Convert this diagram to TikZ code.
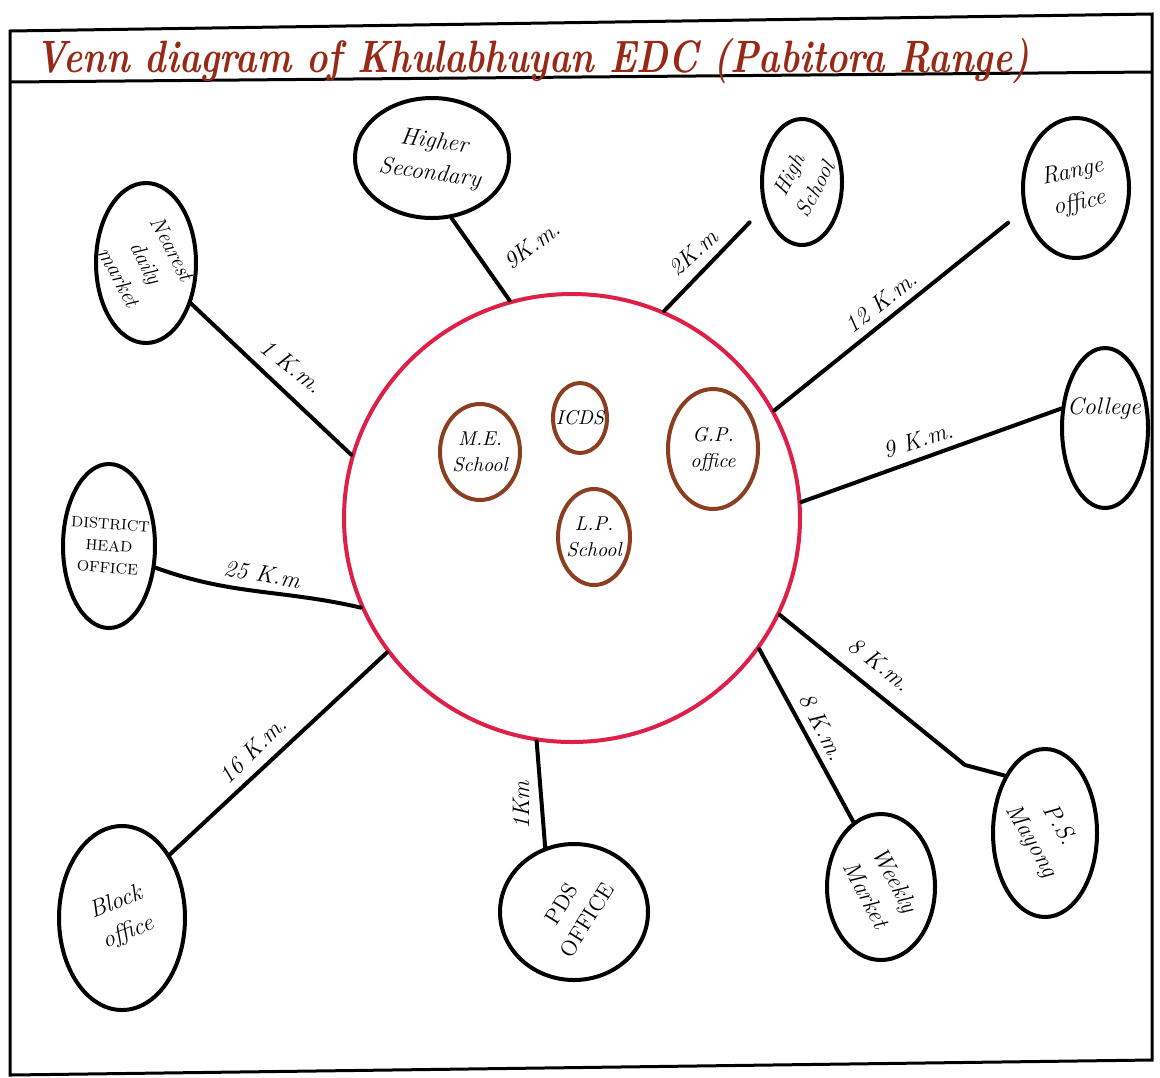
\documentclass[tikz,border=0pt]{standalone}
\usetikzlibrary{shapes.geometric}
\definecolor{venred}{RGB}{222,32,72}
\definecolor{inbrown}{RGB}{140,62,32}
\definecolor{titlered}{RGB}{150,42,22}
\begin{document}
\begin{tikzpicture}[x=0.5pt,y=-0.5pt,
  place/.style={ellipse, draw=black, line width=2pt, inner sep=0pt},
  innerc/.style={ellipse, draw=inbrown, line width=2pt, inner sep=0pt},
  txt/.style={font=\itshape\fontsize{12}{16}\selectfont, align=center, inner sep=0pt},
  captxt/.style={font=\fontsize{7.5}{11}\selectfont, align=center, inner sep=0pt},
  smalltxt/.style={font=\itshape\fontsize{10}{13}\selectfont, align=center, inner sep=0pt},
  lbl/.style={font=\itshape\fontsize{12}{13}\selectfont, inner sep=0pt},
  link/.style={line width=2pt, black, line cap=round, line join=round},
  framel/.style={line width=1.5pt, black}]
\useasboundingbox (0,0) rectangle (1160,1077);
\fill[white] (0,0) rectangle (1160,1077);
% frame
\coordinate (f1) at (10,31);
\coordinate (f2) at (1152,14);
\coordinate (f3) at (1152,1060);
\coordinate (f4) at (10,1075);
\coordinate (u1) at (10,82);
\coordinate (u2) at (1152,72);
\draw[framel] (f1) -- (f2) -- (f3) -- (f4) -- cycle;
\draw[framel] (u1) -- (u2);
% title
\node[anchor=base west, inner sep=0pt, text=titlered, font=\itshape\bfseries] (title) at (35,72)
  {\resizebox{497pt}{17pt}{Venn diagram of Khulabhuyan EDC (Pabitora Range)}};
% central circle
\node[ellipse, draw=venred, line width=2pt, minimum width=228pt, minimum height=224pt, inner sep=0pt] (c) at (572,518) {};
% inner circles
\node[innerc, minimum width=40pt, minimum height=48pt] (me) at (480,452) {};
\node[smalltxt] (tme) at (me) {M.E.\\School};
\node[innerc, minimum width=27pt, minimum height=35pt] (icds) at (580,418) {};
\node[smalltxt] (ticds) at (icds) {ICDS};
\node[innerc, minimum width=45pt, minimum height=60pt] (gp) at (713,449) {};
\node[smalltxt] (tgp) at (gp) {G.P.\\office};
\node[innerc, minimum width=36pt, minimum height=48pt] (lp) at (594,537) {};
\node[smalltxt] (tlp) at (lp) {L.P.\\School};
% outer places
\node[place, minimum width=77pt, minimum height=60pt] (hs) at (432,158) {};
\node[txt, rotate=-8] (ths) at (hs) {Higher\\Secondary};
\node[place, minimum width=40pt, minimum height=63pt] (hsch) at (802,182) {};
\node[txt, font=\itshape\fontsize{11}{15}\selectfont, rotate=62] (thsch) at (hsch) {High\\School};
\node[place, minimum width=53pt, minimum height=70pt] (range) at (1076,188) {};
\node[txt, rotate=12] (trange) at (range) {Range\\office};
\node[place, minimum width=43pt, minimum height=80pt] (coll) at (1105,428) {};
\node[txt] (tcoll) at (1104,408) {College};
\node[place, minimum width=50pt, minimum height=80pt] (ndm) at (146,263) {};
\node[txt, font=\itshape\fontsize{11}{15}\selectfont, rotate=-62] (tndm) at (ndm) {Nearest\\daily\\market};
\node[place, minimum width=46pt, minimum height=82pt] (dho) at (109,546) {};
\node[captxt, rotate=-4] (tdho) at (dho) {DISTRICT\\HEAD\\OFFICE};
\node[place, minimum width=63pt, minimum height=92pt] (blk) at (122,918) {};
\node[txt, rotate=22] (tblk) at (blk) {Block\\office};
\node[place, minimum width=74pt, minimum height=68pt] (pds) at (574,912) {};
\node[captxt, font=\fontsize{11}{15}\selectfont, rotate=58] (tpds) at (pds) {PDS\\OFFICE};
\node[place, minimum width=54pt, minimum height=73pt] (wm) at (881,887) {};
\node[txt, rotate=-62] (twm) at (wm) {Weekly\\Market};
\node[place, minimum width=52pt, minimum height=84pt] (ps) at (1045,833) {};
\node[txt, rotate=-60] (tps) at (ps) {P.S.\\Mayong};
% connectors
\coordinate (pskink) at (965,765);
\draw[link] (hs.-72) -- (c.106);
\draw[link, shorten >=10pt] (c.66) -- (hsch.-146);
\draw[link, shorten >=10pt] (c.28) -- (range.-157);
\draw[link] (c.4) -- (coll.156);
\draw[link] (ndm.-42) -- (c.164);
\draw[link] (dho.-25) to[out=-20,in=167] (c.-157);
\draw[link] (blk.53) -- (c.-144);
\draw[link] (c.-99) -- (pds.114);
\draw[link] (c.-35) -- (wm.113);
\draw[link] (c.-25) -- (pskink) -- (ps.125);
% distance labels
\node[lbl, rotate=37] (l1) at (532,245) {9K.m.};
\node[lbl, rotate=42] (l2) at (693,253) {2K.m};
\node[lbl, rotate=38] (l3) at (881,302) {12 K.m.};
\node[lbl, rotate=17] (l4) at (918,440) {9 K.m.};
\node[lbl, rotate=-38] (l5) at (292,366) {1 K.m.};
\node[lbl, rotate=-10] (l6) at (262,574) {25 K.m};
\node[lbl, rotate=45] (l7) at (253,750) {16 K.m.};
\node[lbl, rotate=90] (l8) at (521,805) {1Km};
\node[lbl, rotate=-62] (l9) at (822,727) {8 K.m.};
\node[lbl, rotate=-38] (l10) at (880,664) {8 K.m.};
\end{tikzpicture}
\end{document}
